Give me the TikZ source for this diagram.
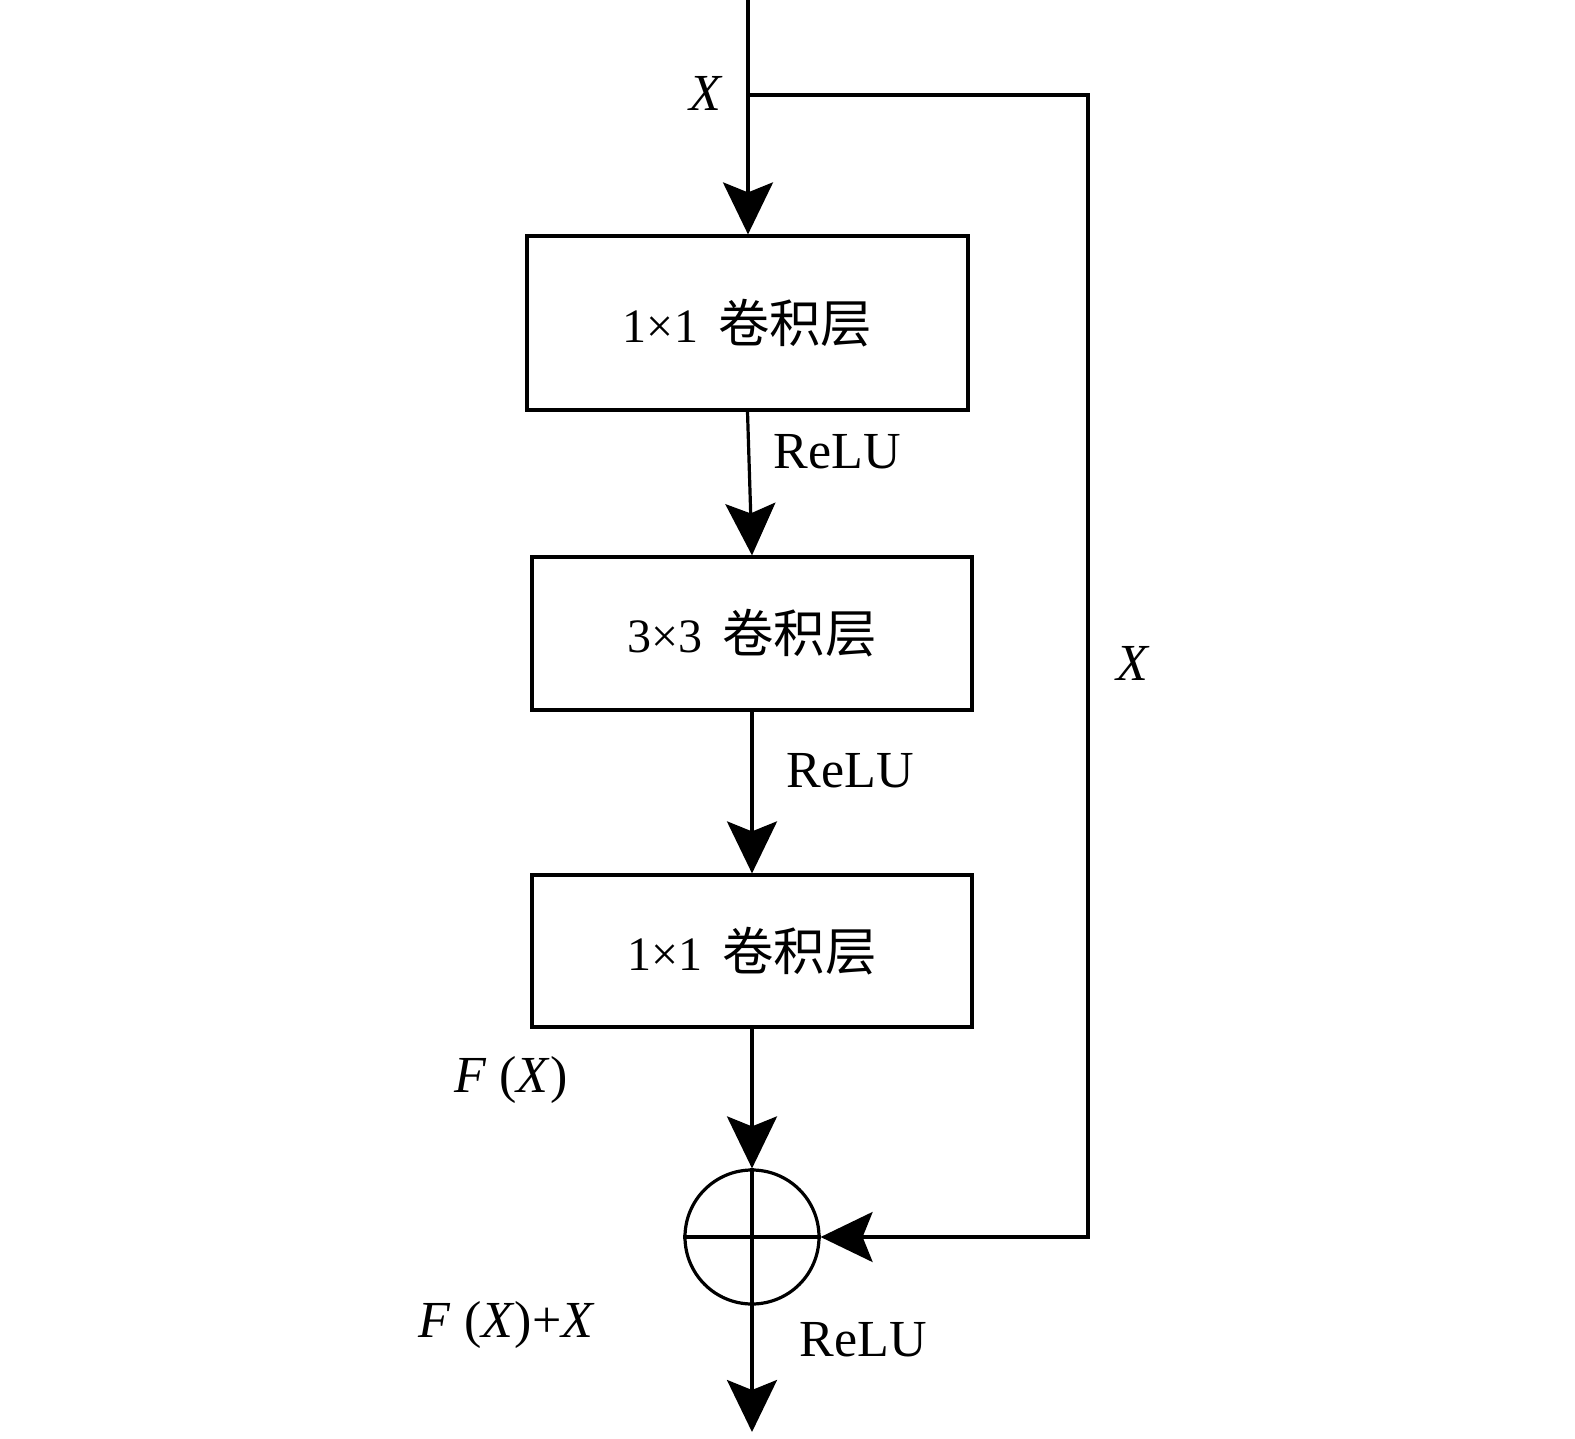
\documentclass[tikz,border=0pt]{standalone}
\usepackage{fontspec}
\setmainfont{Liberation Serif}
\newfontfamily\cjk{Noto Sans CJK SC}[Scale=1.07]
\usetikzlibrary{arrows.meta}
\begin{document}
\begin{tikzpicture}[x=1pt,y=-1pt,
  line width=3.2pt,
  arr/.style={-{Stealth[length=52pt,width=50pt,inset=10pt]}},
  box/.style={draw,rectangle,inner sep=0pt,font=\fontsize{48}{56}\selectfont},
  lab/.style={font=\fontsize{52}{60}\selectfont,inner sep=0pt}]
\useasboundingbox (0,0) rectangle (1575,1439);
\fill[white] (0,0) rectangle (1575,1439);
\node[box,minimum width=441pt,minimum height=174pt] (b1) at (747.5,323) {1×1\hspace{20pt}{\cjk 卷积层}};
\node[box,minimum width=440pt,minimum height=153pt] (b2) at (752,633.5) {3×3\hspace{20pt}{\cjk 卷积层}};
\node[box,minimum width=440pt,minimum height=152pt] (b3) at (752,951) {1×1\hspace{20pt}{\cjk 卷积层}};
\node[draw,circle,minimum size=134pt,inner sep=0pt] (sum) at (752,1237) {};
\draw (sum.west) -- (sum.east);
\draw (sum.north) -- (sum.south);
\coordinate (top) at (748,0);
\coordinate (split) at (748,95);
\coordinate (r1) at (1088,95);
\coordinate (r2) at (1088,1237);
\coordinate (out) at (752,1432);
\draw[arr] (top) -- (top |- b1.north);
\draw[arr] (b1.south) -- (b2.north);
\draw[arr] (b2.south) -- (b3.north);
\draw[arr] (b3.south) -- (sum.north);
\draw[arr] (split) -- (r1) -- (r2) -- (sum.east);
\draw[arr] (sum.south) -- (out);
\node[lab] (lx1) at (706,93) {\textit{X}};
\node[lab] (lx2) at (1133,663) {\textit{X}};
\node[lab] (lr1) at (837,452) {ReLU};
\node[lab] (lr2) at (850,771) {ReLU};
\node[lab] (lr3) at (863,1340) {ReLU};
\node[lab] (lf) at (511,1080) {\textit{F} (\textit{X})};
\node[lab] (lfx) at (507,1325) {\textit{F} (\textit{X})+\textit{X}};
\end{tikzpicture}
\end{document}
